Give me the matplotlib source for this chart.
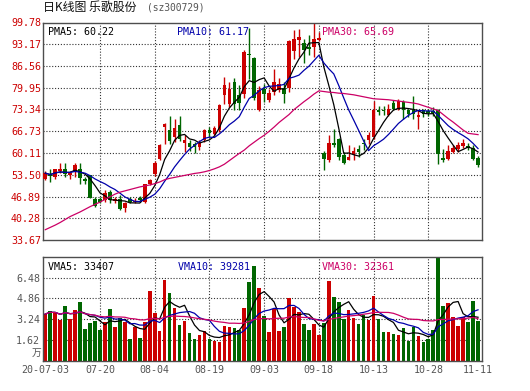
import numpy as np
import pandas as pd
import matplotlib
matplotlib.use("Agg")
from matplotlib import pyplot as plt

plt.rcParams['font.family'] = ['DejaVu Sans Mono', 'Noto Sans CJK SC']

# ---- data (daily, 2020-07-03 .. 2020-11-11) ----
tick_dates = ["20-07-03", "07-20", "08-04", "08-19", "09-03", "09-18", "10-13", "10-28", "11-11"]
tick_idx = [0, 11, 22, 33, 44, 55, 66, 77, 87]

open_ = [52.3, 53.5, 52.8, 54.6, 55.2, 53.4, 54.4, 55.4, 52.3, 53.3,
         46.1, 46.0, 45.8, 48.3, 45.6, 46.0, 43.3, 46.0, 45.1, 46.3,
         45.3, 50.8, 53.8, 58.4, 68.0, 67.0, 65.0, 68.5, 63.2, 63.2,
         62.8, 62.0, 64.0, 67.0, 66.0, 67.0, 77.7, 75.0, 81.7, 77.7,
         78.0, 90.2, 89.0, 73.1, 79.7, 76.2, 78.6, 79.4, 80.0, 79.8,
         91.0, 94.6, 93.5, 92.2, 92.3, 94.6, 60.1, 57.9, 63.3, 64.5,
         59.4, 58.1, 59.9, 61.4, 63.2, 64.0, 65.0, 73.1, 73.3, 71.6,
         75.4, 73.6, 75.7, 73.1, 73.3, 71.2, 73.1, 72.9, 73.0, 73.1,
         58.6, 58.4, 60.4, 61.2, 62.2, 62.3, 61.7, 58.6]
close = [54.0, 53.1, 55.1, 55.2, 53.7, 54.1, 56.4, 52.6, 51.6, 46.5,
         44.0, 45.3, 48.0, 45.8, 46.0, 43.0, 44.8, 45.3, 45.6, 45.8,
         50.6, 51.8, 57.1, 62.5, 68.8, 63.8, 67.7, 64.5, 64.0, 62.0,
         62.0, 63.2, 67.0, 66.3, 67.8, 74.6, 80.7, 79.5, 75.0, 75.4,
         90.8, 89.8, 76.8, 79.3, 78.0, 78.5, 81.8, 81.0, 78.1, 94.1,
         94.9, 95.4, 91.3, 91.8, 94.8, 95.1, 58.4, 63.2, 62.5, 58.9,
         57.1, 58.9, 60.6, 60.4, 62.8, 65.5, 73.3, 72.6, 72.9, 73.4,
         73.6, 75.9, 73.1, 72.1, 72.1, 71.7, 71.9, 72.3, 72.4, 59.9,
         58.1, 60.6, 61.5, 62.5, 63.3, 61.7, 58.2, 56.4]
high = [54.5, 55.2, 55.4, 57.1, 57.1, 54.5, 57.1, 57.0, 52.9, 53.5,
        46.8, 46.8, 48.8, 48.8, 46.8, 47.3, 45.3, 46.6, 46.3, 47.0,
        50.8, 52.3, 57.6, 62.9, 69.3, 71.3, 70.5, 71.3, 65.5, 64.0,
        63.5, 64.0, 67.5, 68.0, 68.2, 74.9, 83.2, 81.6, 83.0, 80.7,
        91.4, 98.2, 89.4, 80.5, 81.2, 79.7, 85.7, 82.8, 81.8, 94.4,
        97.6, 97.9, 94.9, 96.0, 99.8, 97.0, 60.6, 65.5, 67.5, 64.8,
        60.4, 62.5, 61.9, 62.5, 64.5, 66.5, 76.0, 74.5, 74.5, 75.0,
        76.2, 76.4, 76.2, 73.6, 77.4, 73.3, 73.6, 73.6, 74.0, 73.6,
        61.4, 62.5, 62.5, 63.5, 64.5, 63.3, 62.5, 59.1]
low = [52.0, 51.4, 52.3, 54.0, 52.9, 52.2, 52.8, 50.8, 50.8, 46.3,
       43.8, 44.8, 45.3, 44.8, 45.0, 42.7, 42.3, 44.8, 44.8, 45.3,
       45.0, 50.3, 53.0, 58.0, 63.0, 63.0, 63.5, 63.9, 60.5, 60.8,
       60.0, 61.0, 63.5, 65.0, 65.5, 66.5, 75.0, 74.1, 73.1, 73.1,
       76.7, 82.5, 76.2, 72.9, 75.7, 75.7, 77.7, 78.7, 75.2, 78.7,
       88.8, 89.4, 87.5, 89.9, 89.4, 94.2, 55.0, 57.4, 61.9, 57.9,
       56.9, 57.9, 58.1, 58.9, 61.0, 63.0, 64.3, 71.6, 71.6, 71.3,
       73.3, 73.3, 70.6, 71.1, 70.6, 67.3, 71.0, 71.5, 71.5, 56.9,
       57.4, 57.9, 60.0, 60.4, 61.7, 60.9, 57.9, 55.9]
# volume in 万手
volume = [3.65, 3.91, 3.76, 3.19, 4.27, 3.26, 3.96, 4.56, 2.49, 2.98,
          3.11, 2.41, 3.06, 4.04, 2.67, 3.37, 3.06, 1.71, 2.67, 1.81,
          3.06, 5.47, 3.70, 2.36, 6.30, 5.26, 4.15, 2.80, 3.13, 2.20,
          1.68, 2.02, 2.33, 1.68, 1.58, 1.50, 2.72, 2.67, 2.59, 2.41,
          4.15, 6.17, 7.41, 5.70, 3.50, 2.28, 4.02, 2.36, 2.67, 4.87,
          4.17, 3.83, 2.88, 2.41, 2.88, 2.02, 2.93, 6.24, 4.97, 4.59,
          3.26, 3.96, 3.32, 2.88, 3.58, 3.19, 5.05, 3.26, 2.28, 2.28,
          2.10, 2.02, 2.59, 1.58, 2.67, 1.94, 1.50, 1.71, 2.41, 8.10,
          4.27, 4.53, 3.45, 2.75, 3.39, 3.06, 4.66, 3.13]
# 30-day price average (window reaches back before July)
ma30 = [36.8, 37.5, 38.2, 39.0, 39.9, 40.8, 41.5, 42.2, 43.0, 43.8,
        44.5, 45.2, 46.0, 46.8, 47.6, 48.2, 48.6, 49.0, 49.4, 49.8,
        50.1, 50.4, 50.8, 51.3, 52.0, 52.4, 52.7, 53.0, 53.3, 53.6,
        53.9, 54.1, 54.4, 54.8, 55.3, 55.9, 56.7, 57.8, 58.9, 60.0,
        61.0, 62.3, 63.4, 64.5, 65.5, 66.7, 68.0, 69.4, 70.6, 71.8,
        73.3, 74.5, 75.7, 76.8, 78.0, 79.0, 78.8, 78.6, 78.5, 78.3,
        78.2, 78.0, 77.8, 77.5, 77.2, 76.9, 76.6, 76.5, 76.4, 76.3,
        76.1, 75.9, 75.7, 75.5, 75.3, 75.0, 74.5, 74.0, 73.5, 73.0,
        71.8, 70.6, 69.5, 68.3, 67.1, 66.1, 65.9, 65.7]

price_ticks = [33.67, 40.28, 46.89, 53.50, 60.11, 66.73, 73.34, 79.95, 86.56, 93.17, 99.78]
vol_ticks = [1.62, 3.24, 4.86, 6.48]
pma_text = ["PMA5: 60.22", "PMA10: 61.17", "PMA30: 65.69"]
vma_text = ["VMA5: 33407", "VMA10: 39281", "VMA30: 32361"]

RED = '#cc0000'
GREEN = '#006600'
BLUE = '#0000aa'
PINK = '#cc0066'
GRAY = '#555555'
FRAME = '#4d4d4d'

o = np.array(open_); c = np.array(close); h = np.array(high); l = np.array(low)
v = np.array(volume)
x = np.arange(len(c))
col = np.where(c >= o, RED, GREEN)
ma5 = pd.Series(c).rolling(5, min_periods=1).mean()
ma10 = pd.Series(c).rolling(10, min_periods=1).mean()
vma5 = pd.Series(v).rolling(5, min_periods=1).mean()
vma10 = pd.Series(v).rolling(10, min_periods=1).mean()
vma30 = pd.Series(v).rolling(30, min_periods=1).mean()

W, H = 530, 391
fig = plt.figure(figsize=(W / 100, H / 100), dpi=100)
ax = fig.add_axes([43 / W, 1 - 240 / H, 439 / W, 217.5 / H])
axv = fig.add_axes([43 / W, 1 - 361 / H, 439 / W, 104.3 / H])

def frame(a):
    for s in a.spines.values():
        s.set_color(FRAME)
        s.set_linewidth(1.0)
    a.tick_params(length=0)
    for gx in tick_idx[1:-1]:
        a.axvline(gx, color='#333333', lw=0.8, ls=(0, (1, 1.6)), zorder=0)
    a.set_xlim(-0.46, 87.8)

# ---- price panel ----
frame(ax)
for gy in price_ticks[1:-1]:
    ax.axhline(gy, color='#333333', lw=0.8, ls=(0, (1, 1.6)), zorder=0)
ax.vlines(x, l, h, colors=col, lw=1.0, zorder=2)
ax.bar(x, np.maximum(np.abs(c - o), 0.3), bottom=np.minimum(o, c), width=0.72,
       color=col, linewidth=0, zorder=3)
ax.plot(x, ma5, color='black', lw=0.9, zorder=4)
ax.plot(x, ma10, color=BLUE, lw=0.9, zorder=4)
ax.plot(x, ma30, color=PINK, lw=0.9, zorder=4)
ax.set_ylim(price_ticks[0], price_ticks[-1])
ax.set_yticks(price_ticks)
ax.set_yticklabels(["%.2f" % t for t in price_ticks], color=RED, fontsize=7.2)
ax.tick_params(axis='y', pad=1.5)
ax.set_xticks([])
for txt, cc, px in zip(pma_text, ['black', BLUE, PINK], [47.7, 176.7, 322.3]):
    ax.text((px - 43) / 439, 0.955, txt, transform=ax.transAxes, color=cc,
            fontsize=7.2, va='center', ha='left', zorder=5)

# ---- volume panel ----
frame(axv)
for gy in vol_ticks:
    axv.axhline(gy, color='#333333', lw=0.8, ls=(0, (1, 1.6)), zorder=0)
axv.bar(x, v, width=0.72, color=col, linewidth=0, zorder=2)
axv.plot(x, vma5, color='black', lw=0.9, zorder=4)
axv.plot(x, vma10, color=BLUE, lw=0.9, zorder=4)
axv.plot(x, vma30, color=PINK, lw=0.9, zorder=4)
axv.set_ylim(0, 8.10)
axv.set_yticks(vol_ticks)
axv.set_yticklabels(["%.2f" % t for t in vol_ticks], color=GRAY, fontsize=7.2)
axv.tick_params(axis='y', pad=2)
axv.text(-0.004, 0.08, "万", transform=axv.transAxes, ha='right', va='center',
         fontsize=7, color=GRAY, family=['Noto Sans CJK SC', 'DejaVu Sans'])
axv.set_xticks(tick_idx)
axv.set_xticklabels(tick_dates, color=GRAY, fontsize=7.2)
axv.tick_params(axis='x', pad=3)
for txt, cc, px in zip(vma_text, ['black', BLUE, PINK], [48, 177.7, 322.3]):
    axv.text((px - 43) / 439, 0.905, txt, transform=axv.transAxes, color=cc,
             fontsize=7.2, va='center', ha='left', zorder=5)

# ---- title ----
fig.text(43 / W, 1 - 7.5 / H, "日K线图 乐歌股份", fontsize=8.6, va='center', ha='left',
         family=['Noto Sans CJK SC', 'DejaVu Sans'], color='#111111')
fig.text(147 / W, 1 - 7.5 / H, "(sz300729)", fontsize=6.9, va='center', ha='left',
         color=GRAY)

fig.savefig("out.png", dpi=100)
